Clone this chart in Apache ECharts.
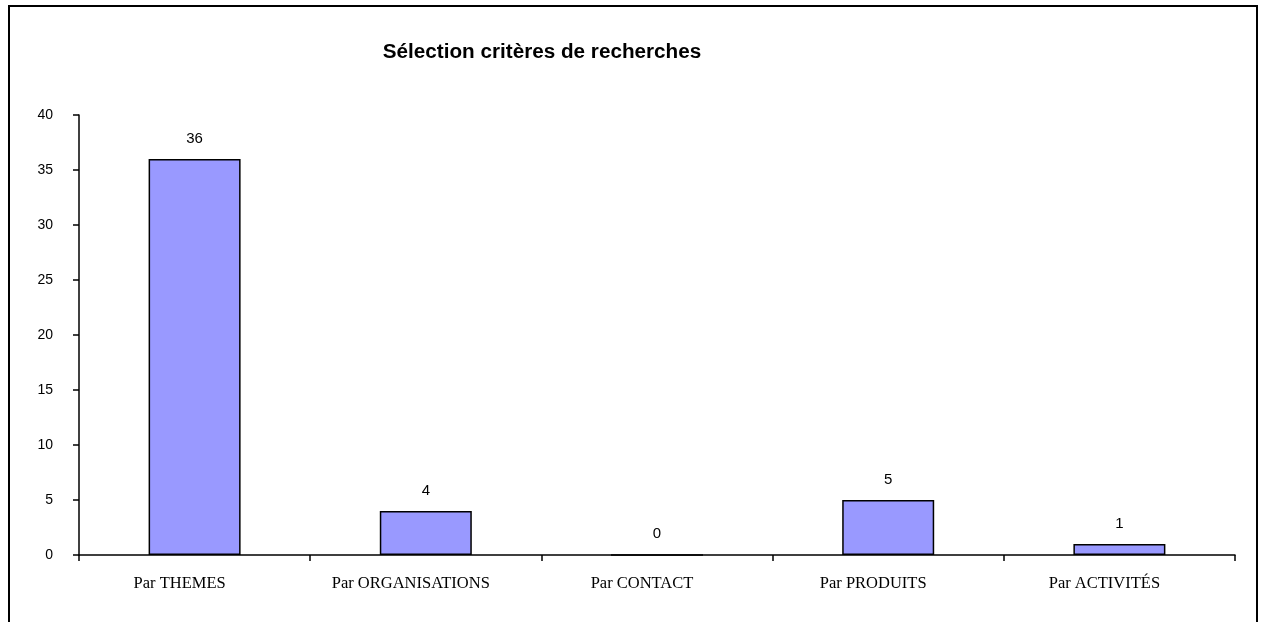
<!DOCTYPE html>
<html>
<head>
<meta charset="utf-8">
<script src="https://cdn.jsdelivr.net/npm/echarts@6/dist/echarts.min.js"></script>
<style>
  html, body { margin: 0; padding: 0; background: #fff; }
  #chart { width: 1265px; height: 622px; }
</style>
</head>
<body>
<div id="chart"></div>
<script>
// Search criteria usage counts
const categories = ['Par THEMES', 'Par ORGANISATIONS', 'Par CONTACT', 'Par PRODUITS', 'Par ACTIVITÉS'];
const counts = [36, 4, 0, 5, 1];
const chartTitle = 'Sélection critères de recherches';

const chart = echarts.init(document.getElementById('chart'));
chart.setOption({
  animation: false,
  backgroundColor: '#ffffff',
  title: {
    text: chartTitle,
    left: 537,
    textAlign: 'center',
    top: 37,
    textStyle: { fontFamily: 'Liberation Sans, Arial, sans-serif', fontSize: 20.7, fontWeight: 'bold', color: '#000' }
  },
  graphic: [{
    type: 'rect',
    shape: { x: 9, y: 6, width: 1248, height: 640 },
    style: { fill: 'none', stroke: '#000', lineWidth: 2 },
    silent: true
  }],
  grid: { left: 79, right: 30, top: 115, bottom: 67, containLabel: false },
  xAxis: {
    type: 'category',
    data: categories,
    boundaryGap: true,
    axisLine: { show: true, lineStyle: { color: '#000', width: 1.5 } },
    axisTick: { show: true, alignWithLabel: false, length: 6, lineStyle: { color: '#000', width: 1.5 } },
    axisLabel: {
      color: '#000',
      fontFamily: 'Liberation Serif, Times New Roman, serif',
      fontSize: 16.5,
      margin: 20,
      interval: 0,
      padding: [0, 30, 0, 0]
    },
    splitLine: { show: false }
  },
  yAxis: {
    type: 'value',
    min: 0,
    max: 40,
    interval: 5,
    axisLine: { show: true, lineStyle: { color: '#000', width: 1.5 } },
    axisTick: { show: true, length: 6, lineStyle: { color: '#000', width: 1.5 } },
    axisLabel: {
      color: '#000',
      fontFamily: 'Liberation Sans, Arial, sans-serif',
      fontSize: 14,
      margin: 26,
      padding: [6, 0, 0, 0]
    },
    splitLine: { show: false }
  },
  series: [{
    type: 'bar',
    data: counts,
    barWidth: 92,
    itemStyle: { color: '#9999FF', borderColor: '#000', borderWidth: 1.5 },
    label: {
      show: true,
      position: 'top',
      distance: 13,
      color: '#000',
      fontFamily: 'Liberation Sans, Arial, sans-serif',
      fontSize: 15
    }
  }]
});
</script>
</body>
</html>
